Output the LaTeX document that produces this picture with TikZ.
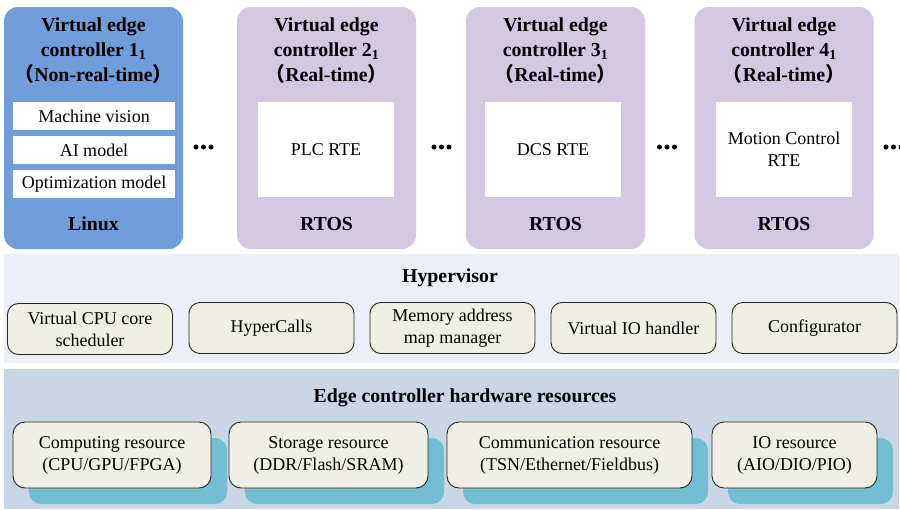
\documentclass[tikz,border=0pt]{standalone}
\usepackage{fontspec}
\setmainfont{Liberation Serif}
\newfontfamily\cjkparen{Noto Sans CJK SC}
\usetikzlibrary{positioning}

\definecolor{vecblue}{RGB}{112,158,219}
\definecolor{veclilac}{RGB}{210,200,225}
\definecolor{hyperbg}{RGB}{236,239,245}
\definecolor{hwbg}{RGB}{201,214,230}
\definecolor{itembg}{RGB}{239,240,227}
\definecolor{shadowteal}{RGB}{114,190,211}

\newcommand{\lp}{{\cjkparen （}}
\newcommand{\rp}{{\cjkparen ）}}

\tikzset{
  txt/.style={font=\fontsize{18}{22}\selectfont},
  head/.style={font=\fontsize{19.8}{25}\selectfont\bfseries, align=center},
  vmbox/.style={draw=none, rounded corners=14pt, minimum width=179pt, minimum height=242pt, inner sep=0pt},
  appbox/.style={fill=white, draw=none, minimum width=162pt, minimum height=28pt, inner sep=0pt, txt},
  rtebox/.style={fill=white, draw=none, minimum width=136pt, minimum height=95pt, inner sep=0pt, txt, align=center},
  hvitem/.style={fill=itembg, draw=black!85, line width=0.9pt, rounded corners=11pt, minimum width=165pt, minimum height=51pt, inner sep=0pt, txt, align=center},
  hwitem/.style={fill=itembg, draw=black!85, line width=0.9pt, rounded corners=12pt, minimum height=66pt, inner sep=0pt, txt, align=center},
  hwshadow/.style={fill=shadowteal, draw=none, rounded corners=12pt, minimum height=66pt, inner sep=0pt},
  dot/.style={circle, fill=black, minimum size=5pt, inner sep=0pt},
}

\begin{document}
\begin{tikzpicture}[x=1pt, y=-1pt]
\useasboundingbox (0,0) rectangle (900,509);
\begin{scope}
\clip (0,0) rectangle (900,509);

% ---- layer panels ----
\fill[hyperbg] (4,254) rectangle (899,363);
\fill[hwbg] (4,369) rectangle (899,509);

% ---- virtual edge controllers ----
\node[vmbox, fill=vecblue] (vm1) at (93.5,128) {};
\node[vmbox, fill=veclilac] (vm2) at (326.5,128) {};
\node[vmbox, fill=veclilac] (vm3) at (555.5,128) {};
\node[vmbox, fill=veclilac] (vm4) at (784,128) {};

\node[head] (t1) at (93.5,51) {Virtual edge\\controller 1\textsubscript{1}\\\lp Non-real-time\rp};
\node[head] (t2) at (326.5,51) {Virtual edge\\controller 2\textsubscript{1}\\\lp Real-time\rp};
\node[head] (t3) at (555.5,51) {Virtual edge\\controller 3\textsubscript{1}\\\lp Real-time\rp};
\node[head] (t4) at (784,51) {Virtual edge\\controller 4\textsubscript{1}\\\lp Real-time\rp};

\node[appbox] (mv) at (94,116) {Machine vision};
\node[appbox] (ai) at (94,150) {AI model};
\node[appbox] (opt) at (94,184) {Optimization model};

\node[rtebox] (plc) at (326,149.5) {PLC RTE};
\node[rtebox] (dcs) at (553,149.5) {DCS RTE};
\node[rtebox] (mc) at (784,149.5) {Motion Control\\RTE};

\node[head] (os1) at (93.5,224) {Linux};
\node[head] (os2) at (326.5,224) {RTOS};
\node[head] (os3) at (555.5,224) {RTOS};
\node[head] (os4) at (784,224) {RTOS};

% ---- ellipses between controllers ----
\foreach \cx/\nm in {203.5/a, 441.5/b, 667/c, 893.5/d}{
  \node[dot] (\nm1) at (\cx-7.5,147) {};
  \node[dot] (\nm2) at (\cx,147) {};
  \node[dot] (\nm3) at (\cx+7.5,147) {};
}

% ---- hypervisor ----
\node[head] (hv) at (450,278) {Hypervisor};
\node[hvitem] (vcpu) at (90,329) {Virtual CPU core\\scheduler};
\node[hvitem] (hcall) at (271.5,328) {HyperCalls};
\node[hvitem] (mem) at (452.5,328) {Memory address\\map manager};
\node[hvitem] (vio) at (633.5,328) {Virtual IO handler};
\node[hvitem] (cfg) at (814.5,328) {Configurator};

% ---- hardware resources ----
\node[head] (hw) at (465,398) {Edge controller hardware resources};
\foreach \cx/\w/\nm in {112/198/cmp, 328.5/199/sto, 569.5/245/com, 794.5/165/io}{
  \node[hwshadow, minimum width=\w pt] (\nm s) at (\cx+16,471) {};
}
\node[hwitem, minimum width=198pt] (cmp) at (112,455) {Computing resource\\(CPU/GPU/FPGA)};
\node[hwitem, minimum width=199pt] (sto) at (328.5,455) {Storage resource\\(DDR/Flash/SRAM)};
\node[hwitem, minimum width=245pt] (com) at (569.5,455) {Communication resource\\(TSN/Ethernet/Fieldbus)};
\node[hwitem, minimum width=165pt] (io) at (794.5,455) {IO resource\\(AIO/DIO/PIO)};
\end{scope}
\end{tikzpicture}
\end{document}
